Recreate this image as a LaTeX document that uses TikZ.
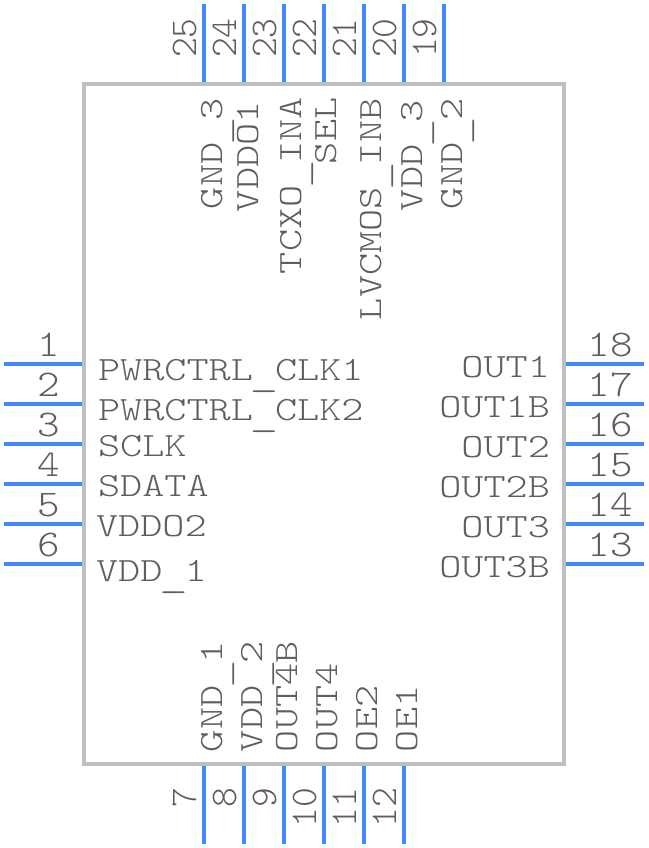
\documentclass[tikz,border=0pt]{standalone}
\usepackage{fontspec}
\usepackage{xcolor}
\newfontfamily\labelfont[FakeStretch=1.24]{Latin Modern Mono Light}
\newfontfamily\numfont{Latin Modern Mono Light}
\newfontfamily\numwidefont[FakeStretch=1.14]{Latin Modern Mono Light}
\definecolor{pinblue}{HTML}{4488FF}
\definecolor{bodygray}{HTML}{BFBFBF}
\definecolor{textgray}{HTML}{5E5E5E}
\newcommand{\lowbar}{\makebox[22.1pt]{\raisebox{-6pt}{\scalebox{1.3}[1]{\_}}}}

\begin{document}
\begin{tikzpicture}[x=1pt,y=-1pt,
        every node/.style={inner sep=0pt,outer sep=0pt,text=textgray},
        chipbody/.style={draw=bodygray,line width=4pt,minimum width=480pt,minimum height=680pt},
        pinwire/.style={draw=pinblue,line width=4pt},
        pinlabel/.style={font=\labelfont\fontsize{34}{34}\selectfont,anchor=base west},
        pinlabelr/.style={font=\labelfont\fontsize{34}{34}\selectfont,anchor=base east},
        vlabel/.style={pinlabel,rotate=90},
        hnum/.style={font=\numwidefont\fontsize{37.7}{37.7}\selectfont,anchor=base},
        vnum/.style={font=\numfont\fontsize{37.7}{37.7}\selectfont,rotate=90}]

      \useasboundingbox (0,0) rectangle (648,848);

      \node[chipbody] (chip) at (324,424) {};

      % left and right pins
      \foreach \n/\m/\y in {1/18/364, 2/17/404, 3/16/444, 4/15/484, 5/14/524, 6/13/564} {
        \coordinate (w\n) at (4,\y);
        \coordinate (a\n) at (82,\y);
        \coordinate (e\m) at (644,\y);
        \coordinate (a\m) at (566,\y);
        \path[pinwire] (w\n) edge (a\n) (e\m) edge (a\m);
        \node[hnum] (num\n) at (49,\y-8) {\n};
        \node[hnum] (num\m) at (610,\y-8) {\m};
      }

      % bottom pins
      \foreach \n/\x in {7/204, 8/244, 9/284, 10/324, 11/364, 12/404} {
        \coordinate (s\n) at (\x,844);
        \coordinate (a\n) at (\x,766);
        \path[pinwire] (s\n) edge (a\n);
        \node[vnum,anchor=base east] (num\n) at (\x-8,788) {\n};
      }

      % top pins
      \foreach \n/\x in {25/204, 24/244, 23/284, 22/324, 21/364, 20/404, 19/444} {
        \coordinate (t\n) at (\x,4);
        \coordinate (a\n) at (\x,82);
        \path[pinwire] (t\n) edge (a\n);
        \node[vnum,anchor=base west] (num\n) at (\x-8,58) {\n};
      }

      \node[pinlabel] (l1) at (98,380) {PWRCTRL\lowbar CLK1};
      \node[pinlabel] (l2) at (98,420) {PWRCTRL\lowbar CLK2};
      \node[pinlabel] (l3) at (98,456) {SCLK};
      \node[pinlabel] (l4) at (98,496) {SDATA};
      \node[pinlabel] (l5) at (96,536) {VDDO2};
      \node[pinlabel] (l6) at (96,581) {VDD\lowbar 1};

      \node[pinlabelr] (l18) at (550,377) {OUT1};
      \node[pinlabelr] (l17) at (550,417) {OUT1B};
      \node[pinlabelr] (l16) at (550,457) {OUT2};
      \node[pinlabelr] (l15) at (550,497) {OUT2B};
      \node[pinlabelr] (l14) at (550,537) {OUT3};
      \node[pinlabelr] (l13) at (550,577) {OUT3B};

      \node[vlabel] (l7)  at (222,752) {GND\lowbar 1};
      \node[vlabel] (l8)  at (262,752) {VDD\lowbar 2};
      \node[vlabel] (l9)  at (297,752) {OUT4B};
      \node[vlabel] (l10) at (337,752) {OUT4};
      \node[vlabel] (l11) at (377,752) {OE2};
      \node[vlabel] (l12) at (417,752) {OE1};

      \node[vlabel] (l25) at (222,209) {GND\lowbar 3};
      \node[vlabel] (l24) at (258,212) {VDDO1};
      \node[vlabel] (l23) at (301,274) {TCXO\lowbar INA};
      \node[vlabel] (l22) at (336,164) {SEL};
      \node[vlabel] (l21) at (381,320) {LVCMOS\lowbar INB};
      \node[vlabel] (l20) at (422,211) {VDD\lowbar 3};
      \node[vlabel] (l19) at (462,209) {GND\lowbar 2};
\end{tikzpicture}
\end{document}
